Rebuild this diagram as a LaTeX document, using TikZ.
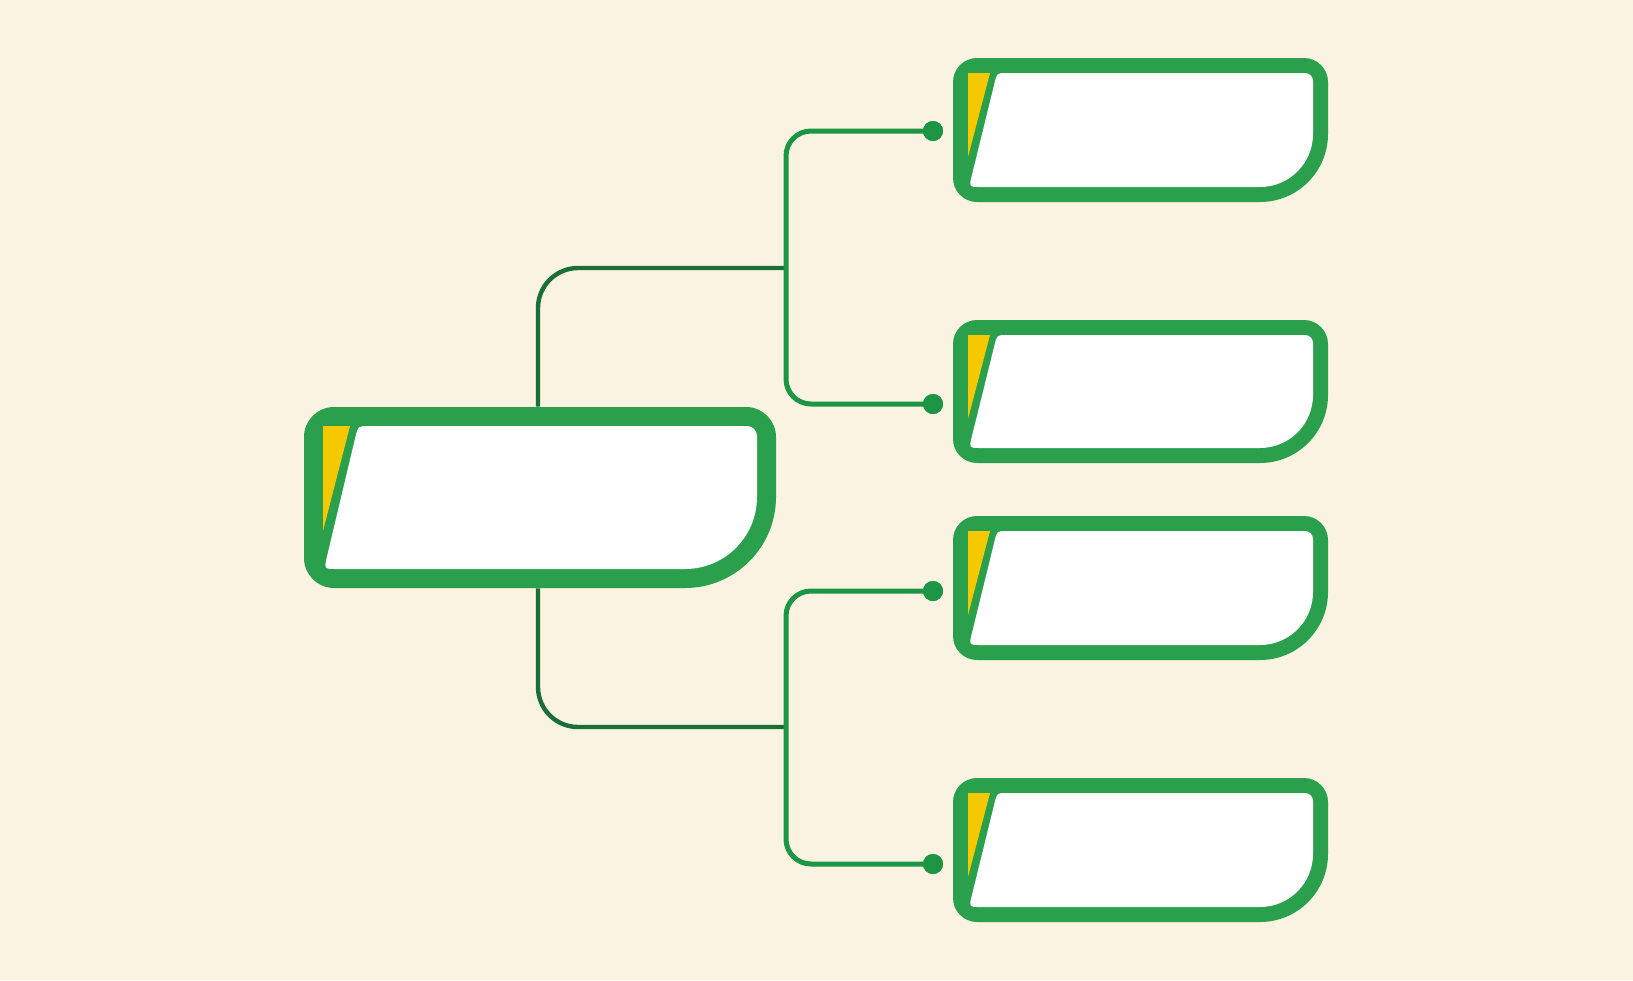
\documentclass[tikz,border=0pt]{standalone}
\usetikzlibrary{calc}
\definecolor{bgcream}{RGB}{250,243,225}
\definecolor{cardgreen}{RGB}{42,160,76}
\definecolor{cardyellow}{RGB}{246,200,0}
\definecolor{maingreen}{RGB}{26,110,56}
\definecolor{branchgreen}{RGB}{28,150,68}
\tikzset{
  mainline/.style={draw=maingreen, line width=2.2pt, rounded corners=20pt},
  branchline/.style={draw=branchgreen, line width=2.5pt, rounded corners=12.5pt},
  enddot/.style={circle, fill=branchgreen, minimum size=10pt, inner sep=0pt, draw=none},
  cardarea/.style={rectangle, draw=none, inner sep=0pt}
}
% card parameters: \cbw border, \cbr outer corner, \cbR big corner, \cbs slant,
% \cbyw \cbyh yellow triangle, \cbri inner corner, \cbk / \cbkb slant roundings
\newcommand\cardbox[5]{% name, L, T, R, B
  \node[cardarea, minimum width={(#4-#2)*0.5pt}, minimum height={(#5-#3)*0.5pt}]
     (#1) at ({(#2+#4)/2},{(#3+#5)/2}) {};
  \fill[cardgreen] (#2,{#3+\cbr}) arc[start angle=180,end angle=270,radius=\cbr]
     -- ({#4-\cbr},#3) arc[start angle=270,end angle=360,radius=\cbr]
     -- (#4,{#5-\cbR}) arc[start angle=0,end angle=90,radius=\cbR]
     -- ({#2+\cbr},#5) arc[start angle=90,end angle=180,radius=\cbr] -- cycle;
  \coordinate (#1-p) at ({#2+\cbw+1},{#5-\cbw});
  \coordinate (#1-q) at ({#2+\cbw+\cbs},{#3+\cbw});
  \fill[white] ({#2+\cbw+\cbs+\cbk},{#3+\cbw})
     -- ({#4-\cbw-\cbri},{#3+\cbw}) arc[start angle=270,end angle=360,radius=\cbri]
     -- ({#4-\cbw},{#5-\cbR}) arc[start angle=0,end angle=90,radius={\cbR-\cbw}]
     -- ({#2+\cbw+1+\cbkb},{#5-\cbw})
     .. controls (#1-p) .. ($(#1-p)!{\cbkb/(#5-#3-2*\cbw)}!(#1-q)$)
     -- ($(#1-q)!{\cbk/(#5-#3-2*\cbw)}!(#1-p)$)
     .. controls (#1-q) .. ({#2+\cbw+\cbs+\cbk},{#3+\cbw}) -- cycle;
  \fill[cardyellow] ({#2+\cbw},{#3+\cbw}) -- ({#2+\cbw+\cbyw},{#3+\cbw})
     -- ({#2+\cbw},{#3+\cbw+\cbyh}) -- cycle;
}
\begin{document}
\begin{tikzpicture}[x=0.5pt,y=-0.5pt]
\fill[bgcream] (0,0) rectangle (1633,980);
\useasboundingbox (0,0) rectangle (1633,980);

% junctions
\coordinate (j1) at (786,268);
\coordinate (j2) at (786,727);

% main card
\def\cbw{19}\def\cbr{30}\def\cbR{91}\def\cbs{35}\def\cbyw{27}\def\cbyh{105}\def\cbri{10}\def\cbk{11}\def\cbkb{13}
\cardbox{main}{304}{407}{776}{588}

% right cards
\def\cbw{15}\def\cbr{24}\def\cbR{68}\def\cbs{29}\def\cbyw{22}\def\cbyh{84}\def\cbri{8}\def\cbk{10}\def\cbkb{11}
\cardbox{c1}{953}{58}{1328}{202}
\cardbox{c2}{953}{320}{1328}{463}
\cardbox{c3}{953}{516}{1328}{660}
\cardbox{c4}{953}{778}{1328}{922}

\node[enddot] (d1) at (933,131) {};
\node[enddot] (d2) at (933,404) {};
\node[enddot] (d3) at (933,591) {};
\node[enddot] (d4) at (933,864) {};

% connectors
\draw[mainline] ([xshift=-1pt]main.north) |- (j1);
\draw[mainline] ([xshift=-1pt]main.south) |- (j2);
\draw[branchline] (d1.center) -| (j1) |- (d2.center);
\draw[branchline] (d3.center) -| (j2) |- (d4.center);

% dots on top
\fill[branchgreen] (d1) circle[radius=10];
\fill[branchgreen] (d2) circle[radius=10];
\fill[branchgreen] (d3) circle[radius=10];
\fill[branchgreen] (d4) circle[radius=10];
\end{tikzpicture}
\end{document}
